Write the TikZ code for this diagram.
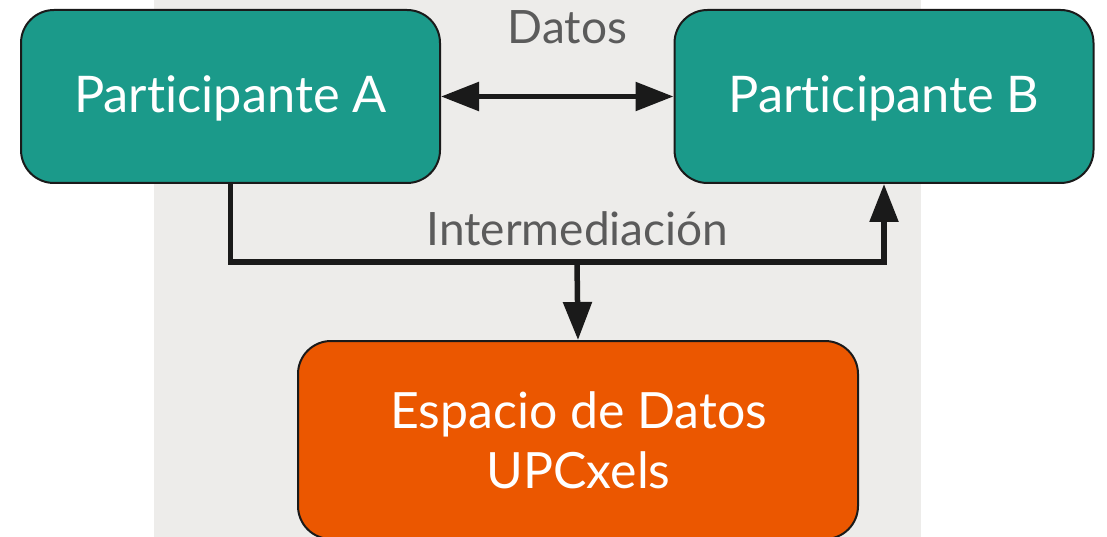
\documentclass[tikz,border=0pt]{standalone}
\usepackage{fontspec}
\setmainfont{Lato}[Ligatures={NoCommon,NoRare,NoContextual}]
\usetikzlibrary{arrows.meta}
\definecolor{bgray}{HTML}{EDECEA}
\definecolor{teal1}{HTML}{1B9A8A}
\definecolor{orng}{HTML}{EB5700}
\definecolor{lgray}{HTML}{5B5B5B}
\definecolor{ink}{HTML}{1A1A1A}
\tikzset{
  partbox/.style={draw=ink, line width=2pt, fill=teal1, rounded corners=33pt,
    minimum width=419pt, minimum height=173pt, inner sep=0pt, text=white,
    text height=40pt, text depth=7pt,
    font=\fontsize{50.5}{60}\selectfont},
  spacebox/.style={draw=ink, line width=2pt, fill=orng, rounded corners=33pt,
    minimum width=560pt, minimum height=198pt, inner sep=0pt},
  boxtext/.style={text=white, inner sep=0pt, font=\fontsize{50}{60}\selectfont},
  lbl/.style={text=lgray, inner sep=0pt, font=\fontsize{46}{55}\selectfont},
  conn/.style={draw=ink, line width=5.5pt},
  tip/.style={arrows={-Triangle[length=38pt,width=28pt]}},
  dtip/.style={arrows={Triangle[length=38pt,width=28pt]-Triangle[length=38pt,width=28pt]}},
}
\begin{document}
\begin{tikzpicture}[x=1pt,y=-1pt]
\useasboundingbox (0,0) rectangle (1107,537);
\fill[bgray] (154,-5) rectangle (921,545);
\node[partbox] (a) at (230.5,96.5) {Participante A};
\node[partbox] (b) at (884,96.5) {Participante B};
\node[spacebox] (e) at (578,440) {};
\node[boxtext, anchor=base] (et) at (578.5,428)
  {\renewcommand\arraystretch{1}\begin{tabular}[t]{@{}c@{}}Espacio de Datos\\UPCxels\end{tabular}};
\node[lbl, anchor=base] (ld) at (567.5,43.3) {Datos};
\node[lbl, anchor=base] (li) at (577.5,245) {Intermediación};
\coordinate (j) at (577,262);
\draw[conn, dtip] (a.east) -- (b.west);
\draw[conn, tip] (a.south) |- (j) -| (b.south);
\draw[conn, tip] (j) -- (e.north);
\end{tikzpicture}
\end{document}
